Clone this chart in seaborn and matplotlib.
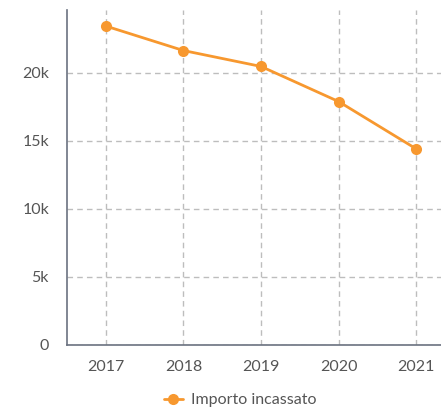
import matplotlib
matplotlib.use("Agg")
import matplotlib.pyplot as plt
import seaborn as sns
import pandas as pd

years = ["2017", "2018", "2019", "2020", "2021"]
importo = [23450, 21650, 20480, 17900, 14420]
series_name = "Importo incassato"
ytick_vals = [0, 5000, 10000, 15000, 20000]
ytick_labels = ["0", "5k", "10k", "15k", "20k"]

sns.set_style("white")
plt.rcParams["font.family"] = ["Lato", "DejaVu Sans"]

df = pd.DataFrame({"anno": years, "valore": importo, "serie": series_name})

fig = plt.figure(figsize=(4.41, 4.12), dpi=100)
ax = fig.add_axes([67/441, 1-345/412, (455-67)/441, 335/412])

orange = "#F7982F"
sns.lineplot(data=df, x="anno", y="valore", hue="serie", palette=[orange],
             marker="o", markersize=8, markeredgewidth=0, linewidth=2,
             sort=False, ax=ax, zorder=3)

ax.set_xlim(-0.5, 4.5)
ax.set_ylim(0, 24630)
ax.set_yticks(ytick_vals)
ax.set_yticklabels(ytick_labels)
ax.set_xlabel("")
ax.set_ylabel("")

grid_c = "#BDBDBD"
ax.grid(True, color=grid_c, linestyle=(0, (4, 3)), linewidth=1)
ax.set_axisbelow(True)

for s in ["top", "right"]:
    ax.spines[s].set_visible(False)
for s in ["left", "bottom"]:
    ax.spines[s].set_color("#6B7280")
    ax.spines[s].set_linewidth(1.2)

ax.tick_params(axis="both", length=0, labelsize=11.5, labelcolor="#555555")
ax.tick_params(axis="y", pad=13)
ax.tick_params(axis="x", pad=11)

ax.legend_.remove()
handles, labels = ax.get_legend_handles_labels()
leg = fig.legend(handles, labels, loc="center", bbox_to_anchor=(240/441, 1-400/412),
                 frameon=False, fontsize=11.5, handlelength=1.2, handletextpad=0.5,
                 labelcolor="#555555")

fig.savefig("out.png", dpi=100)
